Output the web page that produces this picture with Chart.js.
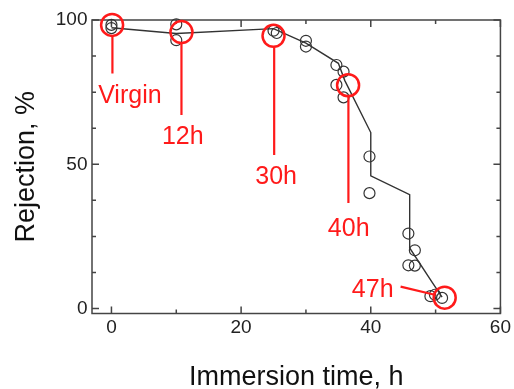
<!DOCTYPE html>
<html>
<head>
<meta charset="utf-8">
<script src="https://cdn.jsdelivr.net/npm/chart.js@4/dist/chart.umd.min.js"></script>
<style>
body{margin:0;background:#fff;}
</style>
</head>
<body>
<canvas id="chart" width="514" height="389"></canvas>
<script>
/* ================= MEASURED SAMPLES ================= */

let timeH = [0, 0, 10, 10, 25, 25.5, 30, 30, 34.7, 35.8, 34.7, 35.8, 39.8, 39.8, 45.8, 46.8, 45.8, 46.8, 49.2, 49.9, 51];
let rejection = [98.3, 97.2, 98.5, 93, 96.3, 95.5, 92.8, 90.8, 84.4, 82.1, 77.5, 73.2, 52.7, 40, 26, 20.2, 15, 14.9, 4.3, 4.8, 3.7];

/* ================= TREND LINE ================= */

let trendTime = [0, 10, 25, 30, 35, 36, 40, 40, 46, 46, 49.5, 51];
let trendRejection = [97.3, 95.3, 97, 92, 85, 79, 61, 46, 39.5, 21, 9, 4];

/* ================= MARKED SAMPLES ================= */

let markNames = ["Virgin", "12h", "30h", "40h", "47h"];
let markTime = [0.1, 10.8, 25.0, 36.5, 51.4];
let markRejection = [98.3, 95.8, 94.5, 77.4, 3.8];

// leader lines, mark side -> label side
let leaderFromX = [0.15, 10.8, 25.1, 36.55, 50.0];
let leaderFromY = [94.2, 91.9, 90.6, 73.7, 4.7];
let leaderToX = [0.15, 10.8, 25.1, 36.55, 44.6];
let leaderToY = [81.5, 67.1, 53.2, 36.6, 7.6];

// label anchor (centre, baseline)
let labelX = [2.84, 11.0, 25.4, 36.6, 40.3];
let labelY = [71.1, 57.0, 43.1, 25.1, 4.1];

/* ================= AXES ================= */

let xTickValues = [0, 10, 20, 30, 40, 50, 60];
let xTickLabels = ["0", "", "20", "", "40", "", "60"];
let yTickValues = [0, 12.5, 25, 37.5, 50, 62.5, 75, 87.5, 100];
let yTickLabels = ["0", "", "", "", "50", "", "", "", "100"];

const FONT = "'Liberation Sans', Arial, sans-serif";
const RED = "#ff1a1a";
const INK = "#333";

let leaderPoints = [];
markNames.forEach((n, i) => {
leaderPoints.push({x: leaderFromX[i], y: leaderFromY[i]});
leaderPoints.push({x: leaderToX[i], y: leaderToY[i]});
leaderPoints.push({x: leaderToX[i], y: null});
});

/* ================= FRAME + INWARD TICKS ================= */

const frameTicks = {
id: "frameTicks",
beforeDatasetsDraw(chart){
const {ctx, chartArea: a, scales: {x, y}} = chart;
ctx.save();
ctx.strokeStyle = "#444";
ctx.lineWidth = 1.5;
ctx.strokeRect(a.left, a.top, a.right - a.left, a.bottom - a.top);
ctx.beginPath();
xTickValues.forEach((v, i) => {
let px = x.getPixelForValue(v);
let len = xTickLabels[i] ? 7 : 4;
ctx.moveTo(px, a.bottom); ctx.lineTo(px, a.bottom - len);
ctx.moveTo(px, a.top); ctx.lineTo(px, a.top + len);
});
yTickValues.forEach((v, i) => {
let py = y.getPixelForValue(v);
let len = yTickLabels[i] ? 7 : 4;
ctx.moveTo(a.left, py); ctx.lineTo(a.left + len, py);
ctx.moveTo(a.right, py); ctx.lineTo(a.right - len, py);
});
ctx.stroke();
ctx.restore();
}
};

/* ================= MARK LABELS ================= */

const markLabels = {
id: "markLabels",
afterDatasetsDraw(chart){
const {ctx, scales: {x, y}} = chart;
ctx.save();
ctx.fillStyle = RED;
ctx.font = "25px " + FONT;
ctx.textAlign = "center";
ctx.textBaseline = "alphabetic";
markNames.forEach((n, i) => {
ctx.fillText(n, x.getPixelForValue(labelX[i]), y.getPixelForValue(labelY[i]));
});
ctx.restore();
}
};

/* ================= CHART ================= */

new Chart(document.getElementById("chart"), {
type: "scatter",
data: {
datasets: [
{
data: markTime.map((t, i) => ({x: t, y: markRejection[i]})),
pointRadius: 11,
pointBorderWidth: 2.5,
borderColor: RED,
backgroundColor: "rgba(0,0,0,0)",
clip: false
},
{
type: "line",
data: leaderPoints,
borderColor: RED,
borderWidth: 2.2,
pointRadius: 0,
spanGaps: false,
clip: false
},
{
data: timeH.map((t, i) => ({x: t, y: rejection[i]})),
pointRadius: 5.5,
pointBorderWidth: 1.2,
borderColor: INK,
backgroundColor: "rgba(0,0,0,0)",
clip: false
},
{
type: "line",
data: trendTime.map((t, i) => ({x: t, y: trendRejection[i]})),
borderColor: INK,
borderWidth: 1.4,
pointRadius: 0,
tension: 0
}
]
},
options: {
responsive: false,
devicePixelRatio: 1,
animation: false,
events: [],
layout: {padding: {top: 20, right: 12, left: 0, bottom: 0}},
plugins: {legend: {display: false}, tooltip: {enabled: false}},
scales: {
x: {
type: "linear",
min: -3,
max: 60,
afterFit: s => { s.height = 75.5; },
afterBuildTicks: s => { s.ticks = xTickValues.map(v => ({value: v})); },
grid: {display: false, drawTicks: false},
border: {display: false},
ticks: {
padding: 3,
color: "#222",
font: {family: FONT, size: 19},
maxRotation: 0,
autoSkip: false,
callback: (v, i) => xTickLabels[i]
},
title: {
display: true,
text: "Immersion time, h",
color: "#111",
font: {family: FONT, size: 27, lineHeight: 1},
padding: {top: 0, bottom: -2.5}
}
},
y: {
type: "linear",
min: -1.7,
max: 100,
afterFit: s => { s.width = 92; },
afterBuildTicks: s => { s.ticks = yTickValues.map(v => ({value: v})); },
grid: {display: false, drawTicks: false},
border: {display: false},
ticks: {
padding: 4.5,
color: "#222",
font: {family: FONT, size: 19},
autoSkip: false,
callback: (v, i) => yTickLabels[i]
},
title: {
display: true,
text: "Rejection, %",
color: "#111",
font: {family: FONT, size: 27, lineHeight: 1},
padding: {top: 13, bottom: 0}
}
}
}
},
plugins: [frameTicks, markLabels]
});
</script>
</body>
</html>
